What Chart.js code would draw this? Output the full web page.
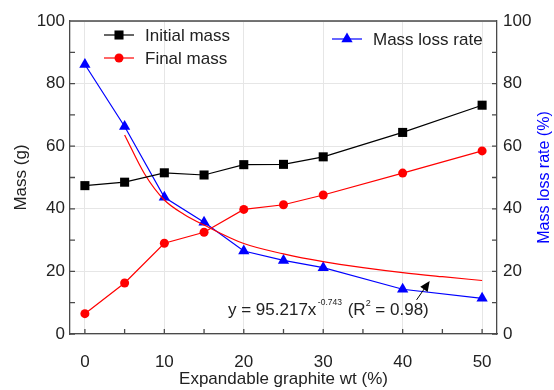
<!DOCTYPE html>
<html>
<head>
<meta charset="utf-8">
<script src="https://cdn.jsdelivr.net/npm/chart.js@4/dist/chart.umd.min.js"></script>
<style>
  html, body { margin: 0; padding: 0; background: #fff; }
  #wrap { width: 554px; height: 390px; }
</style>
</head>
<body>
<div id="wrap"><canvas id="c" width="554" height="390"></canvas></div>
<script>
// Expandable graphite content (wt %) and measured masses
const graphiteWt   = [0, 5, 10, 15, 20, 25, 30, 40, 50];
const initialMass  = [47.4, 48.5, 51.5, 50.8, 54.1, 54.2, 56.6, 64.4, 73.1];
const finalMass    = [6.5, 16.3, 29.0, 32.5, 39.8, 41.3, 44.4, 51.4, 58.5];
const massLossRate = [86.1, 66.3, 43.7, 35.7, 26.5, 23.5, 21.2, 14.3, 11.4];

// Power-law fit curve of the mass loss rate
const fitWt   = [5, 7.5, 10, 12.5, 15, 20, 25, 30, 35, 40, 45, 50];
const fitRate = [63.6, 51.2, 42.8, 38.2, 34.8, 28.9, 25.6, 23.1, 21.2, 19.6, 18.3, 17.1];

// Axis ticks
const xTicks = [0, 10, 20, 30, 40, 50];
const xMinor = [5, 15, 25, 35, 45];
const yTicks = [0, 20, 40, 60, 80, 100];
const yMinor = [10, 30, 50, 70, 90];

const FONT = "'Liberation Sans', Arial, Helvetica, sans-serif";
const AXIS = '#4a4a4a';
const GRID = '#e6e6e6';

const pts = (xs, ys) => xs.map((x, i) => ({ x: x, y: ys[i] }));

function marker(ctx, style, x, y, r, color) {
  ctx.save();
  ctx.fillStyle = color;
  ctx.beginPath();
  if (style === 'rect') {
    const s = r * Math.SQRT1_2;
    ctx.rect(x - s, y - s, 2 * s, 2 * s);
  } else if (style === 'triangle') {
    for (let k = 0; k < 3; k++) {
      const a = k * 2 * Math.PI / 3;
      const px = x + Math.sin(a) * r, py = y - Math.cos(a) * r;
      k ? ctx.lineTo(px, py) : ctx.moveTo(px, py);
    }
    ctx.closePath();
  } else {
    ctx.arc(x, y, r, 0, Math.PI * 2);
  }
  ctx.fill();
  ctx.restore();
}

// Frame, inward tick marks, legend, fit equation and arrow
const decor = {
  id: 'decor',
  beforeDatasetsDraw(chart) {
    const { ctx, chartArea: a, scales } = chart;
    ctx.save();
    ctx.strokeStyle = AXIS;
    ctx.lineWidth = 1.3;
    ctx.beginPath();
    ctx.moveTo(a.left, a.top); ctx.lineTo(a.right, a.top);
    // x ticks, pointing into the plot
    xTicks.concat(xMinor).forEach(v => {
      const px = scales.x.getPixelForValue(v);
      ctx.moveTo(px, a.bottom); ctx.lineTo(px, a.bottom - 5);
    });
    // left / right ticks
    yTicks.concat(yMinor).forEach(v => {
      const py = scales.y.getPixelForValue(v);
      ctx.moveTo(a.left, py); ctx.lineTo(a.left + 5, py);
      const py2 = scales.y2.getPixelForValue(v);
      ctx.moveTo(a.right, py2); ctx.lineTo(a.right - 5, py2);
    });
    ctx.stroke();
    ctx.restore();
  },
  afterDraw(chart) {
    const { ctx, chartArea: a, scales } = chart;
    const ds = chart.data.datasets;
    ctx.save();

    // axis titles
    ctx.fillStyle = '#222';
    ctx.font = '17px ' + FONT;
    ctx.textAlign = 'center';
    ctx.textBaseline = 'middle';
    ctx.fillText('Expandable graphite wt (%)', (a.left + a.right) / 2, 379);
    ctx.save();
    ctx.translate(21, (a.top + a.bottom) / 2);
    ctx.rotate(-Math.PI / 2);
    ctx.fillText('Mass (g)', 0, 0);
    ctx.restore();
    ctx.save();
    ctx.fillStyle = '#0000ff';
    ctx.font = '16px ' + FONT;
    ctx.translate(545, (a.top + a.bottom) / 2);
    ctx.rotate(-Math.PI / 2);
    ctx.fillText('Mass loss rate (%)', 0, 0);
    ctx.restore();

    // legend
    const entries = [
      { d: ds[0], x: 104, y: 35 },
      { d: ds[1], x: 104, y: 58 },
      { d: ds[3], x: 332, y: 39 }
    ];
    ctx.font = '17px ' + FONT;
    ctx.textAlign = 'left';
    entries.forEach(e => {
      ctx.strokeStyle = e.d.borderColor;
      ctx.lineWidth = 1.2;
      ctx.beginPath();
      ctx.moveTo(e.x, e.y); ctx.lineTo(e.x + 30, e.y);
      ctx.stroke();
      marker(ctx, e.d.pointStyle, e.x + 15, e.y, e.d.pointRadius, e.d.backgroundColor);
      ctx.fillStyle = '#222';
      ctx.fillText(e.d.label, e.x + 41, e.y + 1);
    });

    // fit equation
    ctx.textBaseline = 'alphabetic';
    ctx.fillStyle = '#222';
    let x = 228;
    const base = 315;
    const part = (txt, size, dy) => {
      ctx.font = size + 'px ' + FONT;
      ctx.fillText(txt, x, base + dy);
      x += ctx.measureText(txt).width;
    };
    part('y = 95.217x', 17, 0);
    x += 1.5;
    part('-0.743', 8.5, -10);
    x += 1;
    part(' (R', 17, 0);
    part('2', 9, -9);
    part(' = 0.98)', 17, 0);

    // arrow pointing at the fit curve
    const tx = scales.x.getPixelForValue(41.75), ty = scales.y2.getPixelForValue(10.9);
    const hx = scales.x.getPixelForValue(43.4),  hy = scales.y2.getPixelForValue(16.9);
    const ang = Math.atan2(hy - ty, hx - tx);
    ctx.strokeStyle = '#000';
    ctx.fillStyle = '#000';
    ctx.lineWidth = 1;
    ctx.beginPath();
    ctx.moveTo(tx, ty); ctx.lineTo(hx - Math.cos(ang) * 6, hy - Math.sin(ang) * 6);
    ctx.stroke();
    ctx.beginPath();
    ctx.moveTo(hx, hy);
    ctx.lineTo(hx - Math.cos(ang) * 10 - Math.sin(ang) * 4.5, hy - Math.sin(ang) * 10 + Math.cos(ang) * 4.5);
    ctx.lineTo(hx - Math.cos(ang) * 10 + Math.sin(ang) * 4.5, hy - Math.sin(ang) * 10 - Math.cos(ang) * 4.5);
    ctx.closePath();
    ctx.fill();

    ctx.restore();
  }
};

const tickFont = { family: FONT, size: 17 };

new Chart(document.getElementById('c'), {
  type: 'line',
  data: {
    datasets: [
      {
        label: 'Initial mass', data: pts(graphiteWt, initialMass), yAxisID: 'y',
        borderColor: '#000000', backgroundColor: '#000000', borderWidth: 1.2,
        pointStyle: 'rect', pointRadius: 6.4, pointBorderWidth: 0
      },
      {
        label: 'Final mass', data: pts(graphiteWt, finalMass), yAxisID: 'y',
        borderColor: '#ff0000', backgroundColor: '#ff0000', borderWidth: 1.2,
        pointStyle: 'circle', pointRadius: 4.5, pointBorderWidth: 0
      },
      {
        label: 'Fit', data: pts(fitWt, fitRate), yAxisID: 'y2',
        borderColor: '#ff0000', borderWidth: 1.2, pointRadius: 0,
        cubicInterpolationMode: 'monotone'
      },
      {
        label: 'Mass loss rate', data: pts(graphiteWt, massLossRate), yAxisID: 'y2',
        borderColor: '#0000ff', backgroundColor: '#0000ff', borderWidth: 1.2,
        pointStyle: 'triangle', pointRadius: 6.5, pointBorderWidth: 0
      }
    ]
  },
  options: {
    responsive: false,
    animation: false,
    layout: { padding: { top: 21, left: 0, right: 0, bottom: 0 } },
    plugins: { legend: { display: false }, tooltip: { enabled: false } },
    scales: {
      x: {
        type: 'linear', position: 'bottom', min: -1.875, max: 51.875,
        afterBuildTicks: s => { s.ticks = xTicks.map(v => ({ value: v })); },
        afterFit: s => { s.height = 56; },
        grid: { color: GRID, lineWidth: 1, drawTicks: false },
        border: { color: AXIS, width: 1.3 },
        ticks: { font: tickFont, color: '#222', padding: 18, maxRotation: 0 }
      },
      y: {
        type: 'linear', position: 'left', min: 0, max: 100,
        afterBuildTicks: s => { s.ticks = yTicks.map(v => ({ value: v })); },
        afterFit: s => { s.width = 70; },
        grid: { color: GRID, lineWidth: 1, drawTicks: false },
        border: { color: AXIS, width: 1.3 },
        ticks: { font: tickFont, color: '#222', padding: 5 }
      },
      y2: {
        type: 'linear', position: 'right', min: 0, max: 100,
        afterBuildTicks: s => { s.ticks = yTicks.map(v => ({ value: v })); },
        afterFit: s => { s.width = 57; },
        grid: { drawOnChartArea: false, drawTicks: false },
        border: { color: AXIS, width: 1.3 },
        ticks: { font: tickFont, color: '#222', padding: 6 }
      }
    }
  },
  plugins: [decor]
});
</script>
</body>
</html>
